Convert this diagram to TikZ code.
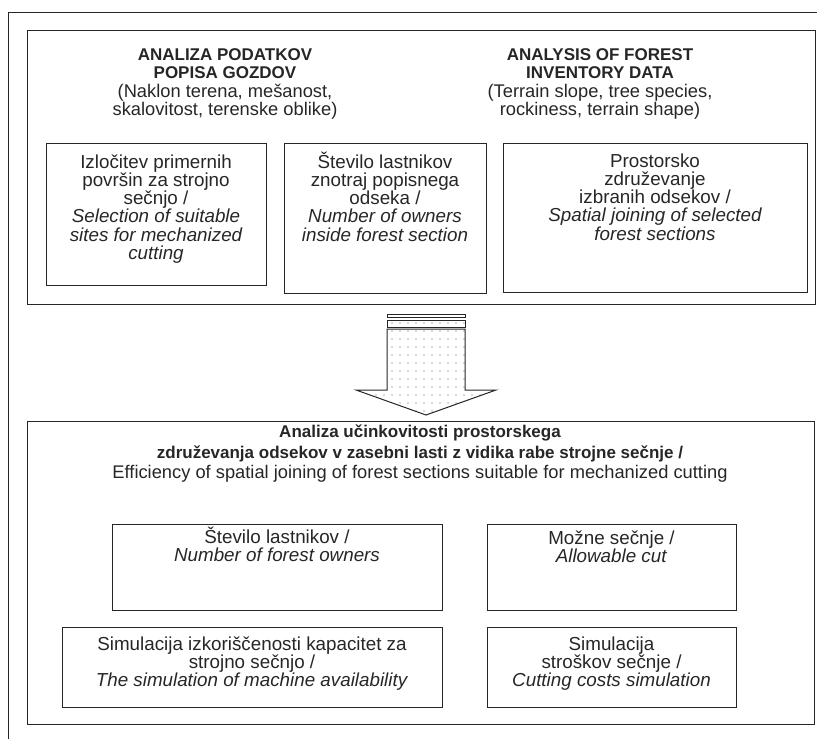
\documentclass[tikz,border=0pt]{standalone}
\usepackage{fontspec}
\setmainfont{Liberation Sans}
\usetikzlibrary{patterns.meta}

\colorlet{ink}{black!85}
% box text: width, height, first baseline below top, text
\newcommand{\boxtxt}[4]{\parbox[c][#2pt][t]{#1pt}{\centering\rule{0pt}{#3pt}#4}}
% bold heading line
\newcommand{\hb}[1]{{\fontsize{17}{18}\selectfont\bfseries #1}}

\begin{document}
\begin{tikzpicture}[x=1pt,y=-1pt,line width=1pt,draw=ink,text=ink,
    every node/.style={font=\fontsize{18.3}{18.3}\selectfont},
    box/.style={draw,inner sep=0pt,font=\fontsize{18.8}{18.3}\selectfont},
    head/.style={align=center,inner sep=0pt,anchor=north},
    dotfill/.style={pattern={Dots[distance=8pt,radius=0.6pt]},pattern color=black!65}]

    \useasboundingbox (0,0) rectangle (817,739);

    % --------------------------------------------------------- %
    % ------------- outer frame (top and left)
    % --------------------------------------------------------- %
    \draw (817,12) -- (8,12) -- (8,739);

    % --------------------------------------------------------- %
    % ------------- upper block (forest inventory data)
    % --------------------------------------------------------- %
    \node[draw,inner sep=0pt,minimum width=788pt,minimum height=274pt] (upper) at (421,167) {};
    % --- headers
    \node[head] (invsl) at (225,44) {\rule{0pt}{16pt}\hb{ANALIZA PODATKOV}\\ \hb{POPISA GOZDOV}\\ (Naklon terena, mešanost,\\ skalovitost, terenske oblike)};
    \node[head] (inven) at (600,44) {\rule{0pt}{16pt}\hb{ANALYSIS OF FOREST}\\ \hb{INVENTORY DATA}\\ (Terrain slope, tree species,\\ rockiness, terrain shape)};
    % --- sub-steps
    \node[box] (izl) at (156,214) {\boxtxt{220}{142}{25}{Izločitev primernih\\ površin za strojno\\ sečnjo /\\ \textit{Selection of suitable\\ sites for mechanized\\ cutting}}};
    \node[box] (stev) at (385,218) {\boxtxt{202}{150}{25}{Število lastnikov\\ znotraj popisnega\\ odseka /\\ \textit{Number of owners\\ inside forest section}}};
    \node[box] (prost) at (655,217.5) {\boxtxt{304}{149}{24}{Prostorsko\\ združevanje\\ izbranih odsekov /\\ \textit{Spatial joining of selected\\ forest sections}}};

    % --------------------------------------------------------- %
    % ------------- block arrow between the two blocks
    % --------------------------------------------------------- %
    \draw[fill=white] (387,314) rectangle (465,317);
    \draw[dotfill] (387,320) rectangle (465,327);
    \draw[dotfill] (387,329) -- (465,329) -- (465,390) -- (496,390) -- (426,415) -- (356,390) -- (387,390) -- cycle;

    % --------------------------------------------------------- %
    % ------------- lower block (efficiency analysis)
    % --------------------------------------------------------- %
    \node[draw,inner sep=0pt,minimum width=787pt,minimum height=303pt] (lower) at (420.5,572.5) {};
    \node[head,font=\fontsize{18.3}{20.5}\selectfont] (effhead) at (420,421) {\rule{0pt}{16pt}\hb{Analiza učinkovitosti prostorskega}\\ \hb{združevanja odsekov v zasebni lasti z vidika rabe strojne sečnje /}\\ Efficiency of spatial joining of forest sections suitable for mechanized cutting};
    % --- sub-steps
    \node[box] (nlast) at (277,567) {\boxtxt{330}{86}{19}{Število lastnikov /\\ \textit{Number of forest owners}}};
    \node[box] (mozne) at (611.5,567) {\boxtxt{249}{86}{20}{Možne sečnje /\\ \textit{Allowable cut}}};
    \node[box] (simcap) at (252,667) {\boxtxt{380}{80}{23}{Simulacija izkoriščenosti kapacitet za\\ strojno sečnjo /\\ \textit{The simulation of machine availability}}};
    \node[box] (simcost) at (611.5,667) {\boxtxt{249}{80}{23}{Simulacija\\ stroškov sečnje /\\ \textit{Cutting costs simulation}}};

\end{tikzpicture}
\end{document}
